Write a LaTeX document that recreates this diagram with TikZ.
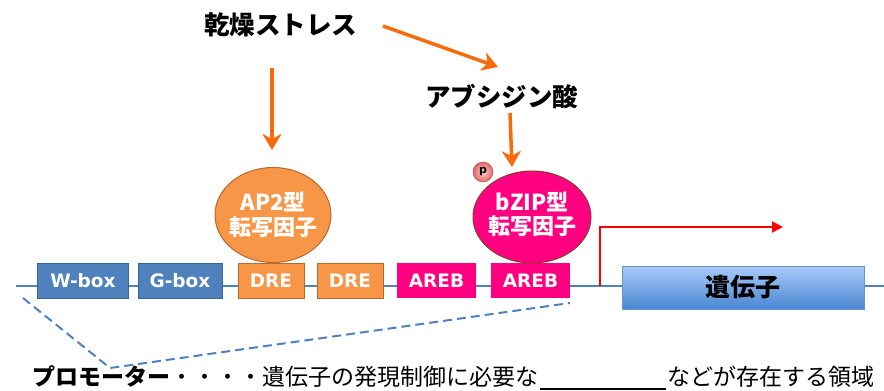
\documentclass[tikz,border=0pt]{standalone}
\usepackage{fontspec}
\setmainfont{DejaVu Sans}
\newfontfamily\jp{Noto Sans CJK JP}
\usetikzlibrary{arrows.meta,shapes.geometric}
\definecolor{dnablue}{HTML}{4F81BD}
\definecolor{boxblueb}{HTML}{3A6496}
\definecolor{orfill}{HTML}{F79646}
\definecolor{orline}{HTML}{B8692E}
\definecolor{pinkfill}{HTML}{FF0080}
\definecolor{pinkline}{HTML}{8A3A2A}
\definecolor{arrorange}{HTML}{FA6A0A}
\definecolor{genetop}{HTML}{A8CBF8}
\definecolor{genebot}{HTML}{4A86D2}
\definecolor{geneline}{HTML}{6A93C8}
\definecolor{pballin}{HTML}{FFD2D2}
\definecolor{pballout}{HTML}{E26464}
\definecolor{pballedge}{HTML}{B85858}
\tikzset{
  sitebox/.style={rectangle, inner sep=0pt, minimum height=35pt, text=white,
    font=\fontsize{18.5pt}{21pt}\selectfont\bfseries},
  bluebox/.style={sitebox, fill=dnablue, draw=boxblueb, line width=0.8pt},
  orbox/.style={sitebox, fill=orfill, draw=orline, line width=0.8pt},
  pinkbox/.style={sitebox, fill=pinkfill},
  tfell/.style={ellipse, inner sep=0pt},
  tftext/.style={font=\jp\fontsize{22pt}{25pt}\selectfont\bfseries, text=white, inner sep=0pt},
  oarrow/.style={draw=arrorange, line width=3.5pt,
    -{Stealth[length=16pt,width=19pt,inset=5pt]}},
  toplabel/.style={font=\jp\fontsize{25.5pt}{28pt}\selectfont\bfseries, inner sep=0pt},
  bottomtext/.style={font=\jp\fontsize{23pt}{26pt}\selectfont, inner sep=0pt},
  dnaline/.style={draw=dnablue, line width=2pt},
  promline/.style={draw=dnablue, line width=2pt, dash pattern=on 9pt off 5pt},
}
\begin{document}
\begin{tikzpicture}[x=1pt,y=-1pt]
\useasboundingbox (0,0) rectangle (884,391);
% DNA strand
\coordinate (dnaL) at (16,286);
\coordinate (dnaR) at (884,286);
\draw[dnaline] (dnaL) -- (dnaR);

% transcription factors
\node[tfell, fill=orfill, draw=orline, line width=1pt, minimum width=116pt, minimum height=95pt] (ap2) at (273,215) {};
\node[tfell, fill=pinkfill, draw=pinkline, line width=1pt, minimum width=118pt, minimum height=92pt] (bzip) at (532,217) {};
\node[tftext] (ap2a) at (273,202) {AP2型};
\node[tftext] (ap2b) at (273,227) {転写因子};
\node[tftext] (bzipa) at (532,202) {bZIP型};
\node[tftext] (bzipb) at (532,226) {転写因子};
\node[circle, shading=radial, inner color=pballin, outer color=pballout, draw=pballedge, line width=0.5pt,
  minimum size=20pt, inner sep=0pt, font=\fontsize{11pt}{12pt}\selectfont\bfseries] (phos) at (483,172) {p};

% cis elements
\node[bluebox, minimum width=91pt] (wbox) at (83,280.5) {W-box};
\node[bluebox, minimum width=84pt] (gbox) at (180,280.5) {G-box};
\node[orbox, minimum width=66pt] (dre1) at (271,280.5) {DRE};
\node[orbox, minimum width=66pt] (dre2) at (350,280.5) {DRE};
\node[pinkbox, minimum width=79pt] (areb1) at (436.5,280.5) {AREB};
\node[pinkbox, minimum width=79pt] (areb2) at (530.5,280.5) {AREB};

% gene
\node[rectangle, inner sep=0pt, minimum width=242pt, minimum height=43pt,
  top color=genetop, bottom color=genebot, draw=geneline, line width=0.8pt,
  font=\jp\fontsize{25pt}{28pt}\selectfont\bfseries] (gene) at (743,287.5) {遺伝子};

% transcription start arrow
\coordinate (tss) at (600,286);
\coordinate (tssup) at (600,227);
\coordinate (tssend) at (783,227);
\draw[red, line width=2pt, -{Triangle[length=11pt,width=11pt]}] (tss) -- (tssup) -- (tssend);

% signals
\node[toplabel] (kanso) at (280.5,25) {乾燥ストレス};
\node[toplabel] (aba) at (501.5,97) {アブシジン酸};
\coordinate (k1s) at (383,26);
\coordinate (k1e) at (498,67);
\coordinate (k2s) at (272,68);
\coordinate (k2e) at (272,150);
\coordinate (a1s) at (510,113);
\coordinate (a1e) at (512,167);
\draw[oarrow] (k1s) -- (k1e);
\draw[oarrow] (k2s) -- (k2e);
\draw[oarrow] (a1s) -- (a1e);

% promoter bracket
\coordinate (pr1) at (23,298);
\coordinate (pr2) at (110,368);
\coordinate (pr3) at (570,303);
\draw[promline] (pr1) -- (pr2) -- (pr3);

% bottom text
\node[bottomtext, anchor=base west] (tleft) at (32,385) {{\bfseries プロモーター}・・・・遺伝子の発現制御に必要な};
\node[bottomtext, anchor=base west] (tright) at (667,385) {などが存在する領域};
\coordinate (blankL) at (540,389);
\coordinate (blankR) at (666,389);
\draw[black, line width=1.2pt] (blankL) -- (blankR);
\end{tikzpicture}
\end{document}
